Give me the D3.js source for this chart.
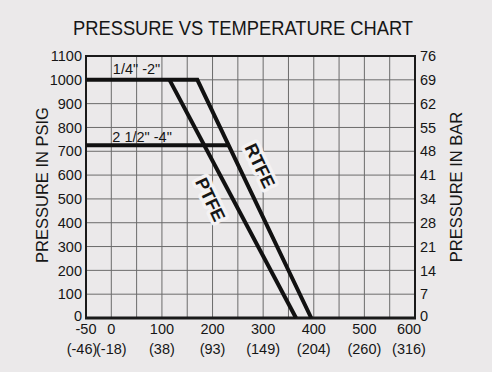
<!DOCTYPE html>
<html>
<head>
<meta charset="utf-8">
<script src="https://cdn.jsdelivr.net/npm/d3@7"></script>
<style>
  html, body { margin: 0; padding: 0; background: #ebe9ea; }
  svg { display: block; }
  text { font-family: "Liberation Sans", Arial, sans-serif; fill: #161616; }
</style>
</head>
<body>
<svg id="chart" width="492" height="372"></svg>
<script>
// ---- data ----
const title = "PRESSURE VS TEMPERATURE CHART";
const yTitleLeft = "PRESSURE IN PSIG";
const yTitleRight = "PRESSURE IN BAR";
const xTicksF = [-50, 0, 100, 200, 300, 400, 500, 600];
const xTicksC = ["(-46)", "(-18)", "(38)", "(93)", "(149)", "(204)", "(260)", "(316)"];
const xGrid = [-50, 0, 50, 100, 150, 200, 250, 300, 350, 400, 450, 500, 550, 600];
const yTicksPsi = [0, 100, 200, 300, 400, 500, 600, 700, 800, 900, 1000, 1100];
const yTicksBar = ["0", "7", "14", "21", "28", "34", "41", "48", "55", "62", "69", "76"];
// series: [temperature °F, pressure psig]
const rtfeSmall = [[-50, 1000], [170, 1000], [395, 0]];
const ptfeSmall = [[115, 1000], [365, 0]];
const rtfeLarge = [[-50, 725], [232, 725]];
const sizeLabels = ['1/4" -2"', '2 1/2" -4"'];
const sizeLabelPos = [[3, 1024], [2, 740]];
const materialLabels = ["RTFE", "PTFE"];
const materialLabelPos = [[294, 640], [196, 498]];

// ---- layout ----
const svg = d3.select("#chart");
const x = d3.scaleLinear().domain([-50, 600]).range([86, 415]);
const y = d3.scaleLinear().domain([0, 1100]).range([318, 56]);

// grid
svg.append("g").selectAll("line").data(xGrid).join("line")
  .attr("x1", d => x(d)).attr("x2", d => x(d))
  .attr("y1", y(1100)).attr("y2", y(0))
  .attr("stroke", "#6b6b6b").attr("stroke-width", 1);
svg.append("g").selectAll("line").data(yTicksPsi).join("line")
  .attr("x1", x(-50)).attr("x2", x(600))
  .attr("y1", d => y(d)).attr("y2", d => y(d))
  .attr("stroke", "#6b6b6b").attr("stroke-width", 1);

// frame
svg.append("rect")
  .attr("x", x(-50)).attr("y", y(1100))
  .attr("width", x(600) - x(-50)).attr("height", y(0) - y(1100))
  .attr("fill", "none").attr("stroke", "#1a1a1a").attr("stroke-width", 2);
svg.append("line")
  .attr("x1", x(-50) - 1).attr("x2", x(600) + 1)
  .attr("y1", y(0)).attr("y2", y(0))
  .attr("stroke", "#1a1a1a").attr("stroke-width", 3);

// series lines
const line = d3.line().x(d => x(d[0])).y(d => y(d[1]));
[rtfeSmall, ptfeSmall, rtfeLarge].forEach(s => {
  svg.append("path").attr("d", line(s))
    .attr("fill", "none").attr("stroke", "#111")
    .attr("stroke-width", 4).attr("stroke-linejoin", "miter");
});

// size labels
svg.append("g").selectAll("text").data(sizeLabels).join("text")
  .attr("x", (d, i) => x(sizeLabelPos[i][0]))
  .attr("y", (d, i) => y(sizeLabelPos[i][1]))
  .attr("font-size", 14.5)
  .text(d => d);

// material labels rotated along the line
const ang = Math.atan2(y(0) - y(1000), x(395) - x(170)) * 180 / Math.PI;
svg.append("g").selectAll("text").data(materialLabels).join("text")
  .attr("transform", (d, i) => `translate(${x(materialLabelPos[i][0])},${y(materialLabelPos[i][1])}) rotate(${ang})`)
  .attr("text-anchor", "middle").attr("dy", "0.36em")
  .attr("font-size", 18).attr("font-weight", "bold")
  .attr("stroke", "#f4f2f3").attr("stroke-width", 7)
  .attr("stroke-linejoin", "round").attr("paint-order", "stroke")
  .text(d => d);

// left axis labels
const zeroLift = (d) => d === 0 ? -2 : 0;
svg.append("g").selectAll("text").data(yTicksPsi).join("text")
  .attr("x", 82).attr("y", d => y(d) + zeroLift(d)).attr("dy", "0.36em")
  .attr("text-anchor", "end").attr("font-size", 14.5)
  .text(d => d);

// right axis labels
svg.append("g").selectAll("text").data(yTicksBar).join("text")
  .attr("x", 420).attr("y", (d, i) => y(yTicksPsi[i]) + zeroLift(yTicksPsi[i])).attr("dy", "0.36em")
  .attr("text-anchor", "start").attr("font-size", 14.5)
  .text(d => d);

// bottom axis labels
const xShift = (i) => i === 0 ? -4 : (i === xTicksF.length - 1 ? -6 : 0);
svg.append("g").selectAll("text").data(xTicksF).join("text")
  .attr("x", (d, i) => x(d) + (i === xTicksF.length - 1 ? -6 : 0))
  .attr("y", 334)
  .attr("text-anchor", "middle").attr("font-size", 14.5)
  .text(d => d);
svg.append("g").selectAll("text").data(xTicksC).join("text")
  .attr("x", (d, i) => x(xTicksF[i]) + xShift(i))
  .attr("y", 354)
  .attr("text-anchor", "middle").attr("font-size", 14.5)
  .text(d => d);

// axis titles
svg.append("text")
  .attr("transform", "translate(48,185) rotate(-90)")
  .attr("text-anchor", "middle").attr("font-size", 16.5)
  .text(yTitleLeft);
svg.append("text")
  .attr("transform", "translate(462,187) rotate(-90)")
  .attr("text-anchor", "middle").attr("font-size", 16.5)
  .text(yTitleRight);

// title
svg.append("text")
  .attr("x", 73).attr("y", 35)
  .attr("font-size", 20)
  .attr("textLength", 340).attr("lengthAdjust", "spacingAndGlyphs")
  .text(title);
</script>
</body>
</html>
